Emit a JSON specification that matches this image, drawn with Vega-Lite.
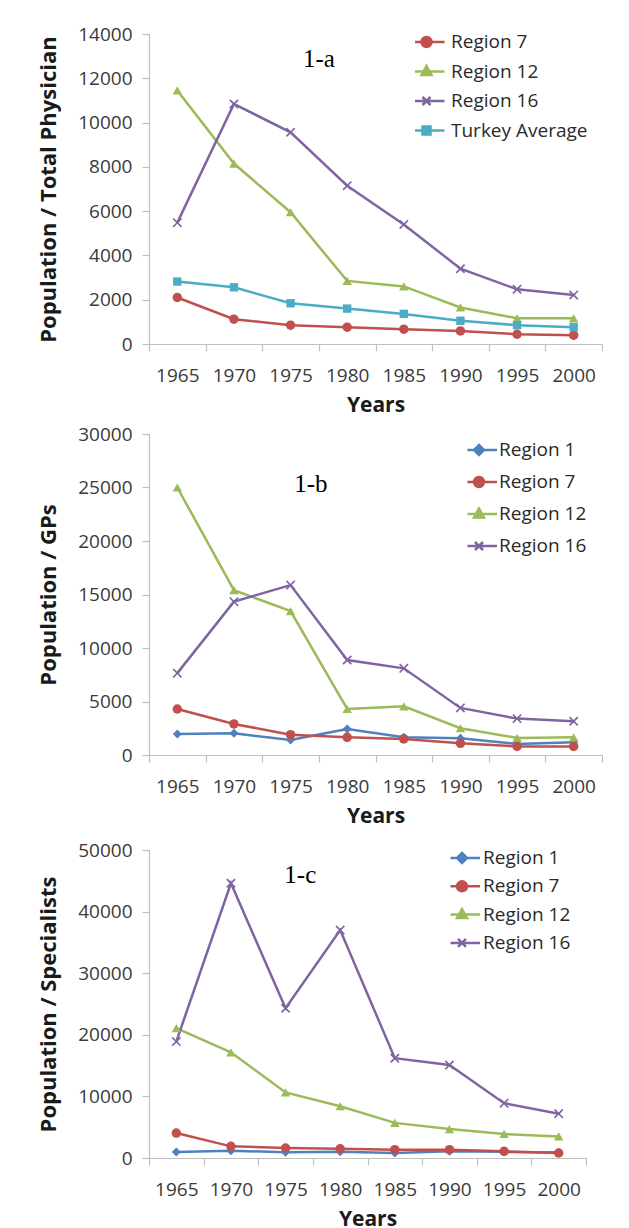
{
  "$schema": "https://vega.github.io/schema/vega-lite/v6.json",
  "padding": {"left": 37, "top": 25, "right": 0, "bottom": 0},
  "spacing": 15,
  "background": "white",
  "datasets": {
    "a": [
      {"year": 1965, "series": "Region 7", "value": 2100}, {"year": 1970, "series": "Region 7", "value": 1120}, {"year": 1975, "series": "Region 7", "value": 850}, {"year": 1980, "series": "Region 7", "value": 760}, {"year": 1985, "series": "Region 7", "value": 670}, {"year": 1990, "series": "Region 7", "value": 590}, {"year": 1995, "series": "Region 7", "value": 440}, {"year": 2000, "series": "Region 7", "value": 400},
      {"year": 1965, "series": "Region 12", "value": 11450}, {"year": 1970, "series": "Region 12", "value": 8150}, {"year": 1975, "series": "Region 12", "value": 5950}, {"year": 1980, "series": "Region 12", "value": 2850}, {"year": 1985, "series": "Region 12", "value": 2600}, {"year": 1990, "series": "Region 12", "value": 1650}, {"year": 1995, "series": "Region 12", "value": 1160}, {"year": 2000, "series": "Region 12", "value": 1160},
      {"year": 1965, "series": "Region 16", "value": 5480}, {"year": 1970, "series": "Region 16", "value": 10840}, {"year": 1975, "series": "Region 16", "value": 9560}, {"year": 1980, "series": "Region 16", "value": 7150}, {"year": 1985, "series": "Region 16", "value": 5400}, {"year": 1990, "series": "Region 16", "value": 3400}, {"year": 1995, "series": "Region 16", "value": 2470}, {"year": 2000, "series": "Region 16", "value": 2210},
      {"year": 1965, "series": "Turkey Average", "value": 2820}, {"year": 1970, "series": "Turkey Average", "value": 2560}, {"year": 1975, "series": "Turkey Average", "value": 1840}, {"year": 1980, "series": "Turkey Average", "value": 1600}, {"year": 1985, "series": "Turkey Average", "value": 1360}, {"year": 1990, "series": "Turkey Average", "value": 1050}, {"year": 1995, "series": "Turkey Average", "value": 850}, {"year": 2000, "series": "Turkey Average", "value": 760}
    ],
    "b": [
      {"year": 1965, "series": "Region 1", "value": 1960}, {"year": 1970, "series": "Region 1", "value": 2030}, {"year": 1975, "series": "Region 1", "value": 1400}, {"year": 1980, "series": "Region 1", "value": 2430}, {"year": 1985, "series": "Region 1", "value": 1650}, {"year": 1990, "series": "Region 1", "value": 1560}, {"year": 1995, "series": "Region 1", "value": 1030}, {"year": 2000, "series": "Region 1", "value": 1180},
      {"year": 1965, "series": "Region 7", "value": 4300}, {"year": 1970, "series": "Region 7", "value": 2900}, {"year": 1975, "series": "Region 7", "value": 1900}, {"year": 1980, "series": "Region 7", "value": 1650}, {"year": 1985, "series": "Region 7", "value": 1500}, {"year": 1990, "series": "Region 7", "value": 1090}, {"year": 1995, "series": "Region 7", "value": 800}, {"year": 2000, "series": "Region 7", "value": 800},
      {"year": 1965, "series": "Region 12", "value": 25000}, {"year": 1970, "series": "Region 12", "value": 15400}, {"year": 1975, "series": "Region 12", "value": 13450}, {"year": 1980, "series": "Region 12", "value": 4300}, {"year": 1985, "series": "Region 12", "value": 4550}, {"year": 1990, "series": "Region 12", "value": 2500}, {"year": 1995, "series": "Region 12", "value": 1600}, {"year": 2000, "series": "Region 12", "value": 1650},
      {"year": 1965, "series": "Region 16", "value": 7650}, {"year": 1970, "series": "Region 16", "value": 14330}, {"year": 1975, "series": "Region 16", "value": 15880}, {"year": 1980, "series": "Region 16", "value": 8880}, {"year": 1985, "series": "Region 16", "value": 8100}, {"year": 1990, "series": "Region 16", "value": 4400}, {"year": 1995, "series": "Region 16", "value": 3400}, {"year": 2000, "series": "Region 16", "value": 3150}
    ],
    "c": [
      {"year": 1965, "series": "Region 1", "value": 970}, {"year": 1970, "series": "Region 1", "value": 1190}, {"year": 1975, "series": "Region 1", "value": 920}, {"year": 1980, "series": "Region 1", "value": 1000}, {"year": 1985, "series": "Region 1", "value": 810}, {"year": 1990, "series": "Region 1", "value": 1080}, {"year": 1995, "series": "Region 1", "value": 1000}, {"year": 2000, "series": "Region 1", "value": 900},
      {"year": 1965, "series": "Region 7", "value": 4050}, {"year": 1970, "series": "Region 7", "value": 1890}, {"year": 1975, "series": "Region 7", "value": 1620}, {"year": 1980, "series": "Region 7", "value": 1500}, {"year": 1985, "series": "Region 7", "value": 1350}, {"year": 1990, "series": "Region 7", "value": 1350}, {"year": 1995, "series": "Region 7", "value": 1080}, {"year": 2000, "series": "Region 7", "value": 810},
      {"year": 1965, "series": "Region 12", "value": 21100}, {"year": 1970, "series": "Region 12", "value": 17150}, {"year": 1975, "series": "Region 12", "value": 10650}, {"year": 1980, "series": "Region 12", "value": 8400}, {"year": 1985, "series": "Region 12", "value": 5700}, {"year": 1990, "series": "Region 12", "value": 4700}, {"year": 1995, "series": "Region 12", "value": 3900}, {"year": 2000, "series": "Region 12", "value": 3500},
      {"year": 1965, "series": "Region 16", "value": 18900}, {"year": 1970, "series": "Region 16", "value": 44600}, {"year": 1975, "series": "Region 16", "value": 24300}, {"year": 1980, "series": "Region 16", "value": 37000}, {"year": 1985, "series": "Region 16", "value": 16200}, {"year": 1990, "series": "Region 16", "value": 15100}, {"year": 1995, "series": "Region 16", "value": 8900}, {"year": 2000, "series": "Region 16", "value": 7200}
    ]
  },
  "config": {
    "view": {"stroke": null},
    "font": "Open Sans",
    "axis": {
      "grid": false,
      "domainColor": "#bfbfbf",
      "domainWidth": 1.2,
      "tickColor": "#bfbfbf",
      "tickWidth": 1.2,
      "tickSize": 7,
      "labelFont": "Open Sans",
      "labelFontSize": 19,
      "labelColor": "#3a3a3a",
      "titleFont": "Open Sans",
      "titleFontWeight": "bold",
      "titleFontSize": 22,
      "titleColor": "#1a1a1a"
    },
    "legend": {
      "labelFont": "Open Sans",
      "labelFontSize": 19,
      "labelColor": "#2a2a2a",
      "symbolSize": 400,
      "symbolStrokeWidth": 2.5,
      "clipHeight": 20,
      "padding": 0,
      "labelLimit": 300
    }
  },
  "resolve": {"scale": {"color": "independent", "x": "independent", "y": "independent"}, "legend": {"color": "independent"}},
  "vconcat": [
    {
      "spacing": 10,
      "resolve": {"scale": {"color": "independent", "x": "independent", "y": "independent"}, "legend": {"color": "independent"}},
      "vconcat": [
        {
          "width": 453,
          "height": 310,
          "data": {"name": "a"},
          "layer": [
            {
              "encoding": {
                "x": {"field": "year", "type": "quantitative", "scale": {"domain": [1962.5, 2002.5], "nice": false, "zero": false},
                  "axis": {"title": "Years", "titleFontSize": 21, "titlePadding": 9, "values": [1962.5, 1965, 1967.5, 1970, 1972.5, 1975, 1977.5, 1980, 1982.5, 1985, 1987.5, 1990, 1992.5, 1995, 1997.5, 2000, 2002.5],
                    "labelExpr": "datum.value % 5 === 0 ? toString(datum.value) : ''",
                    "tickOpacity": {"condition": {"test": "datum.value % 5 === 0", "value": 0}, "value": 1},
                    "labelOverlap": false, "labelFlush": false, "labelBound": false, "labelPadding": 15}},
                "y": {"field": "value", "type": "quantitative", "scale": {"domain": [0, 14000], "nice": false},
                  "axis": {"title": "Population / Total Physician", "values": [0, 2000, 4000, 6000, 8000, 10000, 12000, 14000], "format": "d", "labelPadding": 10, "titlePadding": 17, "labelOverlap": false}},
                "color": {"field": "series", "type": "nominal",
                  "scale": {"domain": ["Region 7", "Region 12", "Region 16", "Turkey Average"], "range": ["#c0504d", "#9bbb59", "#8064a2", "#4bacc6"]},
                  "legend": {"orient": "none", "legendX": 266, "legendY": -2, "rowPadding": 9.5, "labelOffset": 13, "title": null,
                    "encode": {"symbols": {"update": {
                      "shape": {"signal": "datum.value === 'Region 1' ? 'M-1.8,0H1.8M0,-0.5L0.5,0L0,0.5L-0.5,0Z' : datum.value === 'Region 7' ? 'M-1.8,0H1.8M-0.5,0A0.5,0.5 0 1,0 0.5,0A0.5,0.5 0 1,0 -0.5,0Z' : datum.value === 'Region 12' ? 'M-1.8,0H1.8M0,-0.55L0.5,0.35L-0.5,0.35Z' : datum.value === 'Region 16' ? 'M-1.8,0H1.8M-0.4,-0.4L0.4,0.4M-0.4,0.4L0.4,-0.4' : 'M-1.8,0H1.8M-0.4,-0.4H0.4V0.4H-0.4Z'"},
                      "size": {"value": 400},
                      "strokeWidth": {"value": 2.5}
                    }}}}}
              },
              "layer": [
                {"mark": {"type": "line", "strokeWidth": 2.5}},
                {"transform": [{"filter": "datum.series === 'Region 7'"}], "mark": {"type": "point", "filled": true, "size": 90, "opacity": 1, "shape": "circle"}},
                {"transform": [{"filter": "datum.series === 'Region 12'"}], "mark": {"type": "point", "filled": true, "size": 90, "opacity": 1, "shape": "triangle-up"}},
                {"transform": [{"filter": "datum.series === 'Region 16'"}], "mark": {"type": "point", "filled": true, "size": 90, "opacity": 1, "shape": "M-1,-0.75L-0.75,-1L0,-0.25L0.75,-1L1,-0.75L0.25,0L1,0.75L0.75,1L0,0.25L-0.75,1L-1,0.75L-0.25,0Z"}},
                {"transform": [{"filter": "datum.series === 'Turkey Average'"}], "mark": {"type": "point", "filled": true, "size": 70, "opacity": 1, "shape": "square"}}
              ]
            },
            {"data": {"values": [{"label": "1-a"}]},
              "mark": {"type": "text", "font": "Liberation Serif", "fontSize": 25, "align": "center", "baseline": "alphabetic", "color": "#000000"},
              "encoding": {
                "x": {"datum": 1977.5, "type": "quantitative",
                  "axis": {"title": "Years", "titleFontSize": 21, "titlePadding": 9, "values": [1962.5, 1965, 1967.5, 1970, 1972.5, 1975, 1977.5, 1980, 1982.5, 1985, 1987.5, 1990, 1992.5, 1995, 1997.5, 2000, 2002.5],
                    "labelExpr": "datum.value % 5 === 0 ? toString(datum.value) : ''",
                    "tickOpacity": {"condition": {"test": "datum.value % 5 === 0", "value": 0}, "value": 1},
                    "labelOverlap": false, "labelFlush": false, "labelBound": false, "labelPadding": 15}},
                "y": {"datum": 12510, "type": "quantitative",
                  "axis": {"title": "Population / Total Physician", "values": [0, 2000, 4000, 6000, 8000, 10000, 12000, 14000], "format": "d", "labelPadding": 10, "titlePadding": 17, "labelOverlap": false}},
                "text": {"field": "label", "type": "nominal"}}}
          ]
        },
        {
          "width": 453,
          "height": 321,
          "data": {"name": "b"},
          "layer": [
            {
              "encoding": {
                "x": {"field": "year", "type": "quantitative", "scale": {"domain": [1962.5, 2002.5], "nice": false, "zero": false},
                  "axis": {"title": "Years", "titleFontSize": 21, "titlePadding": 9, "values": [1962.5, 1965, 1967.5, 1970, 1972.5, 1975, 1977.5, 1980, 1982.5, 1985, 1987.5, 1990, 1992.5, 1995, 1997.5, 2000, 2002.5],
                    "labelExpr": "datum.value % 5 === 0 ? toString(datum.value) : ''",
                    "tickOpacity": {"condition": {"test": "datum.value % 5 === 0", "value": 0}, "value": 1},
                    "labelOverlap": false, "labelFlush": false, "labelBound": false, "labelPadding": 15}},
                "y": {"field": "value", "type": "quantitative", "scale": {"domain": [0, 30000], "nice": false},
                  "axis": {"title": "Population / GPs", "values": [0, 5000, 10000, 15000, 20000, 25000, 30000], "format": "d", "labelPadding": 10, "titlePadding": 17, "labelOverlap": false}},
                "color": {"field": "series", "type": "nominal",
                  "scale": {"domain": ["Region 1", "Region 7", "Region 12", "Region 16"], "range": ["#4f81bd", "#c0504d", "#9bbb59", "#8064a2"]},
                  "legend": {"orient": "none", "legendX": 318.5, "legendY": 6, "rowPadding": 12, "labelOffset": 8.5, "title": null,
                    "encode": {"symbols": {"update": {
                      "shape": {"signal": "datum.value === 'Region 1' ? 'M-1.8,0H1.8M0,-0.5L0.5,0L0,0.5L-0.5,0Z' : datum.value === 'Region 7' ? 'M-1.8,0H1.8M-0.5,0A0.5,0.5 0 1,0 0.5,0A0.5,0.5 0 1,0 -0.5,0Z' : datum.value === 'Region 12' ? 'M-1.8,0H1.8M0,-0.55L0.5,0.35L-0.5,0.35Z' : datum.value === 'Region 16' ? 'M-1.8,0H1.8M-0.4,-0.4L0.4,0.4M-0.4,0.4L0.4,-0.4' : 'M-1.8,0H1.8M-0.4,-0.4H0.4V0.4H-0.4Z'"},
                      "size": {"value": 400},
                      "strokeWidth": {"value": 2.5}
                    }}}}}
              },
              "layer": [
                {"mark": {"type": "line", "strokeWidth": 2.5}},
                {"transform": [{"filter": "datum.series === 'Region 1'"}], "mark": {"type": "point", "filled": true, "size": 80, "opacity": 1, "shape": "diamond"}},
                {"transform": [{"filter": "datum.series === 'Region 7'"}], "mark": {"type": "point", "filled": true, "size": 90, "opacity": 1, "shape": "circle"}},
                {"transform": [{"filter": "datum.series === 'Region 12'"}], "mark": {"type": "point", "filled": true, "size": 90, "opacity": 1, "shape": "triangle-up"}},
                {"transform": [{"filter": "datum.series === 'Region 16'"}], "mark": {"type": "point", "filled": true, "size": 90, "opacity": 1, "shape": "M-1,-0.75L-0.75,-1L0,-0.25L0.75,-1L1,-0.75L0.25,0L1,0.75L0.75,1L0,0.25L-0.75,1L-1,0.75L-0.25,0Z"}}
              ]
            },
            {"data": {"values": [{"label": "1-b"}]},
              "mark": {"type": "text", "font": "Liberation Serif", "fontSize": 25, "align": "center", "baseline": "alphabetic", "color": "#000000"},
              "encoding": {
                "x": {"datum": 1976.8, "type": "quantitative",
                  "axis": {"title": "Years", "titleFontSize": 21, "titlePadding": 9, "values": [1962.5, 1965, 1967.5, 1970, 1972.5, 1975, 1977.5, 1980, 1982.5, 1985, 1987.5, 1990, 1992.5, 1995, 1997.5, 2000, 2002.5],
                    "labelExpr": "datum.value % 5 === 0 ? toString(datum.value) : ''",
                    "tickOpacity": {"condition": {"test": "datum.value % 5 === 0", "value": 0}, "value": 1},
                    "labelOverlap": false, "labelFlush": false, "labelBound": false, "labelPadding": 15}},
                "y": {"datum": 24600, "type": "quantitative",
                  "axis": {"title": "Population / GPs", "values": [0, 5000, 10000, 15000, 20000, 25000, 30000], "format": "d", "labelPadding": 10, "titlePadding": 17, "labelOverlap": false}},
                "text": {"field": "label", "type": "nominal"}}}
          ]
        }
      ]
    },
    {
      "width": 437,
      "height": 308,
      "data": {"name": "c"},
      "layer": [
        {
          "encoding": {
            "x": {"field": "year", "type": "quantitative", "scale": {"domain": [1962.5, 2002.5], "nice": false, "zero": false},
              "axis": {"title": "Years", "titleFontSize": 21, "titlePadding": 9, "values": [1962.5, 1965, 1967.5, 1970, 1972.5, 1975, 1977.5, 1980, 1982.5, 1985, 1987.5, 1990, 1992.5, 1995, 1997.5, 2000, 2002.5],
                "labelExpr": "datum.value % 5 === 0 ? toString(datum.value) : ''",
                "tickOpacity": {"condition": {"test": "datum.value % 5 === 0", "value": 0}, "value": 1},
                "labelOverlap": false, "labelFlush": false, "labelBound": false, "labelPadding": 15}},
            "y": {"field": "value", "type": "quantitative", "scale": {"domain": [0, 50000], "nice": false},
              "axis": {"title": "Population / Specialists", "values": [0, 10000, 20000, 30000, 40000, 50000], "format": "d", "labelPadding": 10, "titlePadding": 17, "labelOverlap": false}},
            "color": {"field": "series", "type": "nominal",
              "scale": {"domain": ["Region 1", "Region 7", "Region 12", "Region 16"], "range": ["#4f81bd", "#c0504d", "#9bbb59", "#8064a2"]},
              "legend": {"orient": "none", "legendX": 301.5, "legendY": -2, "rowPadding": 8.3, "labelOffset": 9.5, "title": null,
                "encode": {"symbols": {"update": {
                  "shape": {"signal": "datum.value === 'Region 1' ? 'M-1.8,0H1.8M0,-0.5L0.5,0L0,0.5L-0.5,0Z' : datum.value === 'Region 7' ? 'M-1.8,0H1.8M-0.5,0A0.5,0.5 0 1,0 0.5,0A0.5,0.5 0 1,0 -0.5,0Z' : datum.value === 'Region 12' ? 'M-1.8,0H1.8M0,-0.55L0.5,0.35L-0.5,0.35Z' : datum.value === 'Region 16' ? 'M-1.8,0H1.8M-0.4,-0.4L0.4,0.4M-0.4,0.4L0.4,-0.4' : 'M-1.8,0H1.8M-0.4,-0.4H0.4V0.4H-0.4Z'"},
                  "size": {"value": 400},
                  "strokeWidth": {"value": 2.5}
                }}}}}
          },
          "layer": [
            {"mark": {"type": "line", "strokeWidth": 2.5}},
            {"transform": [{"filter": "datum.series === 'Region 1'"}], "mark": {"type": "point", "filled": true, "size": 80, "opacity": 1, "shape": "diamond"}},
            {"transform": [{"filter": "datum.series === 'Region 7'"}], "mark": {"type": "point", "filled": true, "size": 90, "opacity": 1, "shape": "circle"}},
            {"transform": [{"filter": "datum.series === 'Region 12'"}], "mark": {"type": "point", "filled": true, "size": 90, "opacity": 1, "shape": "triangle-up"}},
            {"transform": [{"filter": "datum.series === 'Region 16'"}], "mark": {"type": "point", "filled": true, "size": 90, "opacity": 1, "shape": "M-1,-0.75L-0.75,-1L0,-0.25L0.75,-1L1,-0.75L0.25,0L1,0.75L0.75,1L0,0.25L-0.75,1L-1,0.75L-0.25,0Z"}}
          ]
        },
        {"data": {"values": [{"label": "1-c"}]},
          "mark": {"type": "text", "font": "Liberation Serif", "fontSize": 25, "align": "center", "baseline": "alphabetic", "color": "#000000"},
          "encoding": {
            "x": {"datum": 1976.35, "type": "quantitative",
              "axis": {"title": "Years", "titleFontSize": 21, "titlePadding": 9, "values": [1962.5, 1965, 1967.5, 1970, 1972.5, 1975, 1977.5, 1980, 1982.5, 1985, 1987.5, 1990, 1992.5, 1995, 1997.5, 2000, 2002.5],
                "labelExpr": "datum.value % 5 === 0 ? toString(datum.value) : ''",
                "tickOpacity": {"condition": {"test": "datum.value % 5 === 0", "value": 0}, "value": 1},
                "labelOverlap": false, "labelFlush": false, "labelBound": false, "labelPadding": 15}},
            "y": {"datum": 44700, "type": "quantitative",
              "axis": {"title": "Population / Specialists", "values": [0, 10000, 20000, 30000, 40000, 50000], "format": "d", "labelPadding": 10, "titlePadding": 17, "labelOverlap": false}},
            "text": {"field": "label", "type": "nominal"}}}
      ]
    }
  ]
}
